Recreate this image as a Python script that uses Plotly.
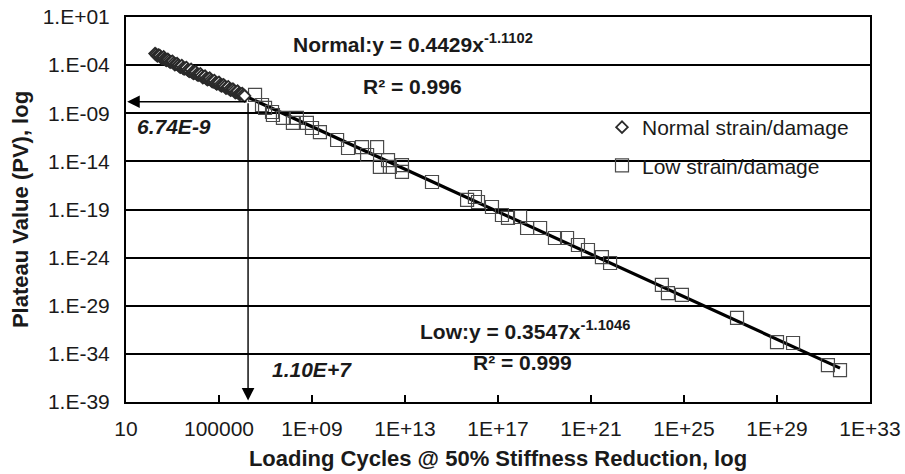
import plotly.graph_objects as go

# ---------------- data ----------------
normal_cycles = [1.78e2, 2.0e2, 2.24e2, 2.51e2, 2.82e2, 3.16e2, 3.55e2, 3.98e2, 4.17e2, 4.47e2,
                 5.01e2, 5.62e2, 6.31e2, 7.08e2, 7.94e2, 8.91e2, 1.0e3, 1.12e3, 1.26e3, 1.41e3,
                 1.58e3, 1.78e3, 2.0e3, 2.24e3, 2.51e3, 2.82e3, 3.16e3, 3.55e3, 3.98e3, 4.47e3,
                 5.01e3, 5.62e3, 6.31e3, 7.08e3, 7.94e3, 8.91e3, 1.0e4, 1.12e4, 1.26e4, 1.41e4,
                 1.58e4, 1.78e4, 2.0e4, 2.24e4, 2.51e4, 2.82e4, 3.16e4, 3.55e4, 3.98e4, 4.47e4,
                 5.01e4, 5.62e4, 6.31e4, 7.08e4, 7.94e4, 8.91e4, 1.0e5, 1.12e5, 1.26e5, 1.41e5,
                 1.58e5, 1.78e5, 2.0e5, 2.24e5, 2.51e5, 2.82e5, 3.16e5, 3.55e5, 3.98e5, 4.47e5,
                 5.01e5, 5.62e5, 6.31e5, 7.08e5, 7.94e5, 8.91e5, 1.0e6, 1.12e6, 1.26e6]
normal_pv = [1.58e-3, 1.26e-3, 8.91e-4, 1.12e-3, 1.0e-3, 6.31e-4, 5.01e-4, 5.62e-4, 7.08e-4, 4.47e-4,
             3.55e-4, 3.16e-4, 3.98e-4, 2.82e-4, 2.0e-4, 2.24e-4, 2.51e-4, 1.58e-4, 1.12e-4, 1.26e-4,
             1.41e-4, 1.0e-4, 7.08e-5, 6.31e-5, 8.91e-5, 5.01e-5, 3.98e-5, 4.47e-5, 5.62e-5, 3.16e-5,
             2.51e-5, 2.24e-5, 3.55e-5, 1.78e-5, 1.41e-5, 1.58e-5, 2.0e-5, 1.12e-5, 8.91e-6, 1.0e-5,
             1.26e-5, 7.94e-6, 5.01e-6, 5.62e-6, 7.08e-6, 3.98e-6, 3.16e-6, 3.55e-6, 4.47e-6, 2.82e-6,
             2.0e-6, 1.78e-6, 2.51e-6, 1.41e-6, 1.12e-6, 1.26e-6, 1.58e-6, 8.91e-7, 7.08e-7, 7.94e-7,
             8.91e-7, 6.31e-7, 3.98e-7, 4.47e-7, 5.62e-7, 3.16e-7, 2.51e-7, 2.82e-7, 3.16e-7, 2.24e-7,
             1.41e-7, 1.58e-7, 2.0e-7, 1.12e-7, 8.91e-8, 1.0e-7, 1.12e-7, 7.94e-8, 6.31e-8]

low_cycles = [3.55e6, 7.08e6, 9.55e6, 1.91e7, 2.09e7, 5.62e7, 1.51e8, 2.24e8, 6.03e8, 1.0e9,
              2.19e9, 1.2e10, 3.55e10, 1.41e11, 2.34e11, 6.31e11, 8.32e11, 1.86e12, 2.24e12, 7.41e12,
              7.41e12, 1.45e14, 4.68e15, 1.02e16, 1.38e16, 5.5e16, 1.48e17, 2.69e17, 8.91e17, 1.78e18,
              6.46e18, 2.82e19, 9.33e19, 2.75e20, 7.41e20, 2.95e21, 6.61e21, 1.12e24, 2.04e24, 8.13e24,
              1.91e27, 1.0e29, 4.9e29, 1.55e31, 5.13e31]
low_pv = [7.94e-8, 7.24e-9, 3.55e-9, 1.35e-9, 6.61e-10, 3.24e-10, 9.77e-11, 3.24e-10, 9.77e-11, 2.95e-11,
          1.12e-11, 1.66e-12, 2.45e-13, 3.09e-13, 4.57e-14, 3.09e-13, 2.63e-15, 1.38e-14, 2.63e-15, 4.17e-15,
          7.94e-16, 7.24e-17, 9.77e-19, 2.0e-18, 6.03e-19, 1.82e-19, 2.69e-20, 1.32e-20, 1.66e-20, 1.2e-21,
          1.2e-21, 1.1e-22, 1.1e-22, 2.04e-23, 6.17e-24, 1.15e-24, 2.75e-25, 1.45e-27, 2.09e-28, 1.32e-28,
          5.37e-31, 1.7e-33, 1.35e-33, 6.92e-36, 2.09e-36]

# power-law fits shown on the chart: y = a * x^b
normal_fit = (0.4429, -1.1102)
low_fit = (0.3547, -1.1046)

x_tickvals = [1e1, 1e5, 1e9, 1e13, 1e17, 1e21, 1e25, 1e29, 1e33]
x_ticktext = ["10", "100000", "1E+09", "1E+13", "1E+17", "1E+21", "1E+25", "1E+29", "1E+33"]
y_tickvals = [1e1, 1e-4, 1e-9, 1e-14, 1e-19, 1e-24, 1e-29, 1e-34, 1e-39]
y_ticktext = ["1.E+01", "1.E-04", "1.E-09", "1.E-14", "1.E-19", "1.E-24", "1.E-29", "1.E-34", "1.E-39"]

# reference crossing drawn with arrows (positions, log10 units)
ref_log_x = 6.25
ref_log_y = -7.8

FONT = "Arial, Liberation Sans, sans-serif"
TXT = "#1a1a1a"

fig = go.Figure()


def fit_line(coef, xs):
    a, b = coef
    return [a * x ** b for x in xs]


line_x_low = [min(normal_cycles), max(low_cycles)]
fig.add_trace(go.Scatter(x=line_x_low, y=fit_line(low_fit, line_x_low), mode="lines",
                         line=dict(color="black", width=3.2), showlegend=False, hoverinfo="skip"))
line_x_norm = [min(normal_cycles), max(normal_cycles)]
fig.add_trace(go.Scatter(x=line_x_norm, y=fit_line(normal_fit, line_x_norm), mode="lines",
                         line=dict(color="black", width=3.2), showlegend=False, hoverinfo="skip"))

fig.add_trace(go.Scatter(x=low_cycles, y=low_pv, mode="markers", name="Low strain/damage",
                         legendgroup="l", legendrank=2,
                         marker=dict(symbol="square-open", size=13, color="#4a4a4a",
                                     line=dict(color="#4a4a4a", width=1.2))))
fig.add_trace(go.Scatter(x=normal_cycles, y=normal_pv, mode="markers", name="Normal strain/damage",
                         legendgroup="n", legendrank=1,
                         marker=dict(symbol="diamond", size=9, color="white",
                                     line=dict(color="#2a2a2a", width=1.8))))


def px_x(p):
    return (p - 126) / 744.0


def px_y(p):
    return (402 - p) / 385.0


# white masks that break the gridlines behind text boxes
masks = [(288, 533, 30, 100), (132, 235, 108, 140), (608, 863, 100, 180),
         (270, 372, 345, 385), (413, 630, 290, 378)]
for x0, x1, y0, y1 in masks:
    fig.add_shape(type="rect", xref="paper", yref="paper", x0=px_x(x0), x1=px_x(x1),
                  y0=px_y(y1), y1=px_y(y0), fillcolor="white", line=dict(width=0), layer="between")

ann_font = dict(family=FONT, size=21, color=TXT)
texts = [
    ("<b>Normal:y = 0.4429x<sup>-1.1102</sup></b>", 291, 43),
    ("<b>R² = 0.996</b>", 361, 87),
    ("<b><i>6.74E-9</i></b>", 135, 126),
    ("<b><i>1.10E+7</i></b>", 270, 369),
    ("<b>Low:y = 0.3547x<sup>-1.1046</sup></b>", 418, 330),
    ("<b>R² = 0.999</b>", 471, 362),
]
for t, xx, yy in texts:
    fig.add_annotation(text=t, xref="paper", yref="paper", x=px_x(xx), y=px_y(yy),
                       xanchor="left", yanchor="middle", showarrow=False, font=ann_font)

# arrows (log10 units on log axes)
fig.add_annotation(x=1.05, y=ref_log_y, ax=ref_log_x, ay=ref_log_y, xref="x", yref="y",
                   axref="x", ayref="y", text="", showarrow=True, arrowhead=2, arrowsize=1.8,
                   arrowwidth=1.4, arrowcolor="black")
fig.add_annotation(x=ref_log_x, y=-38.85, ax=ref_log_x, ay=ref_log_y, xref="x", yref="y",
                   axref="x", ayref="y", text="", showarrow=True, arrowhead=2, arrowsize=1.8,
                   arrowwidth=1.4, arrowcolor="black")

fig.update_layout(
    width=905, height=474,
    margin=dict(l=126, r=35, t=17, b=72),
    paper_bgcolor="white", plot_bgcolor="white",
    font=dict(family=FONT, size=21, color=TXT),
    legend=dict(x=px_x(602), y=px_y(107), xanchor="left", yanchor="top",
                bgcolor="rgba(0,0,0,0)", font=dict(family=FONT, size=21, color=TXT),
                tracegroupgap=8, traceorder="grouped"),
)
fig.update_xaxes(type="log", range=[1, 33], tickvals=x_tickvals, ticktext=x_ticktext,
                 showgrid=False, zeroline=False, showline=True, linecolor="black", linewidth=2,
                 mirror=True, ticks="inside", ticklen=7, tickwidth=1.5, tickcolor="black",
                 tickfont=dict(family=FONT, size=21, color=TXT), ticklabelstandoff=7,
                 automargin=False,
                 title=dict(text="<b>Loading Cycles @ 50% Stiffness Reduction, log</b>",
                            font=dict(family=FONT, size=22, color=TXT), standoff=11))
fig.update_yaxes(type="log", range=[-39, 1], tickvals=y_tickvals, ticktext=y_ticktext,
                 showgrid=True, gridcolor="black", gridwidth=1.5, zeroline=False,
                 showline=True, linecolor="black", linewidth=2, mirror=True,
                 ticks="", tickfont=dict(family=FONT, size=21, color=TXT), ticklabelstandoff=10,
                 automargin=False,
                 title=dict(text="<b>Plateau Value (PV), log</b>",
                            font=dict(family=FONT, size=22, color=TXT), standoff=8))

fig.write_html("out.html")
